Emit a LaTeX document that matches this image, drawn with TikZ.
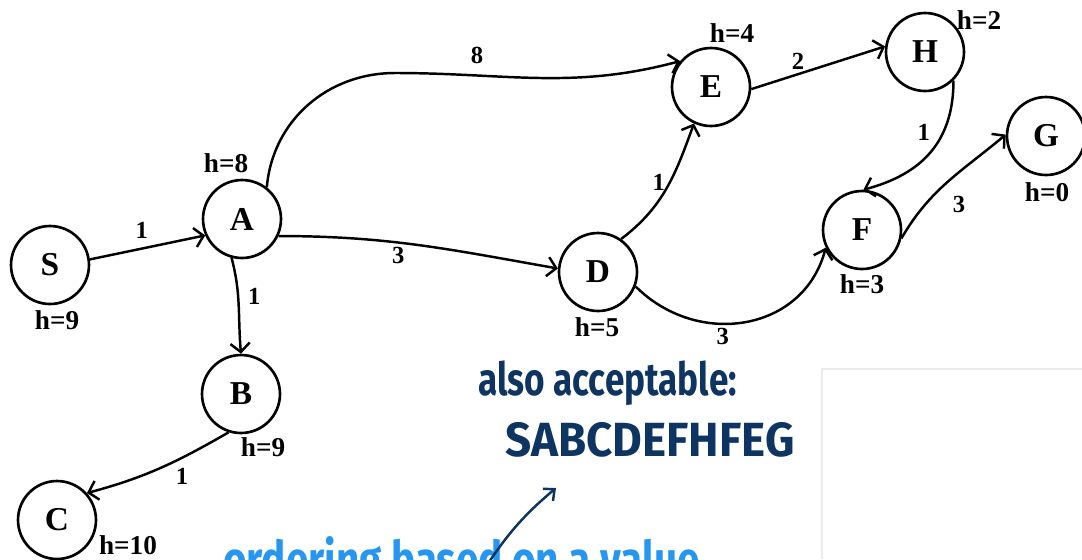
\documentclass[tikz,border=0pt]{standalone}
\usepackage{fontspec}
\setmainfont{Liberation Serif}
\newfontfamily\penfont{Fira Sans}
\usetikzlibrary{arrows.meta}

\definecolor{inknavy}{RGB}{14,52,98}
\definecolor{inkblue}{RGB}{38,150,240}

\tikzset{
  vertex/.style={circle, draw, line width=1.5pt, minimum size=1.56cm, inner sep=0pt,
    font=\fontsize{19}{22}\selectfont\bfseries},
  edge/.style={line width=1.4pt, -{Straight Barb[length=5pt,width=11pt]}},
  heur/.style={font=\fontsize{15.5}{18}\selectfont\bfseries},
  cost/.style={font=\fontsize{14}{16}\selectfont\bfseries, inner sep=2pt},
  pen/.style={font=\penfont\bfseries\fontsize{20}{24}\selectfont, inner sep=0pt},
}

\begin{document}
\begin{tikzpicture}[x=0.02cm, y=0.02cm]
  \useasboundingbox (0,0) rectangle (1082,-559);
  \clip (0,0) rectangle (1082,-559);

  % the search graph
  \node[vertex] (S) at (50,-265) {S};
  \node[vertex] (A) at (242,-219) {A};
  \node[vertex] (B) at (241,-394) {B};
  \node[vertex] (C) at (57,-520) {C};
  \node[vertex] (D) at (598,-272) {D};
  \node[vertex] (E) at (711,-87) {E};
  \node[vertex] (H) at (925,-52) {H};
  \node[vertex] (F) at (862,-230) {F};
  \node[vertex] (G) at (1046,-136) {G};

  % heuristic values
  \node[heur] (hS) at (57,-320) {h=9};
  \node[heur] (hA) at (226,-163) {h=8};
  \node[heur] (hB) at (263,-447) {h=9};
  \node[heur] (hC) at (128,-545) {h=10};
  \node[heur] (hD) at (597,-327) {h=5};
  \node[heur] (hE) at (732,-33) {h=4};
  \node[heur] (hH) at (979,-20) {h=2};
  \node[heur] (hF) at (862,-284) {h=3};
  \node[heur] (hG) at (1047,-192) {h=0};

  % edges with costs
  \coordinate (top8) at (395,-73);
  \draw[edge] (S.8) -- node[cost, pos=0.45, above=3pt] {1} (A.204);
  \draw[edge] (A.52) to[out=85,in=180] (top8)
    to[out=0,in=195] node[cost, pos=0.27, above=4pt] {8} (E.140);
  \draw[edge] (A.-25) to[out=0,in=170] node[cost, pos=0.42, below] {3} (D.175);
  \draw[edge] (A.-105) to[out=-75,in=95] node[cost, pos=0.4, right=3pt] {1} (B.north);
  \draw[edge] (B.-108) to[out=-150,in=15] node[cost, pos=0.33, below=3pt] {1} (C.42);
  \draw[edge] (D.55) to[out=37,in=-110] node[cost, pos=0.55, left] {1} (E.-115);
  \draw[edge] (E.-3) -- node[cost, pos=0.35, above] {2} (H.172);
  \draw[edge] (H.-45) to[out=-90,in=15,looseness=1.1] node[cost, pos=0.33, left=5pt] {1} (F.88);
  \draw[edge] (F.-12) to[out=60,in=220] node[cost, pos=0.45, below right=3pt] {3} (G.178);
  \draw[edge] (D.-21) to[out=-45,in=-105,looseness=1.15] node[cost, pos=0.4, below] {3} (F.-154);

  % hand notes
  \node[pen, text=inknavy, anchor=base west] (alt) at (478,-395)
    {\scalebox{1}[1.3]{also acceptable:}};
  \node[pen, text=inknavy, anchor=base] (altpath) at (650,-456)
    {\fontsize{26}{29}\selectfont\scalebox{1}[1.05]{SABCDEFHFEG}};
  \node[pen, text=inkblue, anchor=base west] (order) at (223,-577)
    {\fontsize{23}{27}\selectfont\scalebox{1}[1.25]{ordering based on a value.}};
  \coordinate (tail) at (487,-565);
  \coordinate (tip) at (556,-488);
  \draw[inknavy, line width=1.4pt, line cap=round,
    -{Straight Barb[length=5pt,width=9pt]}] (tail) to[bend left=8] (tip);

  % faint frame at the lower right
  \draw[black!8, line width=0.8pt] (822,-559) -- (822,-369) -- (1082,-369);
\end{tikzpicture}
\end{document}
